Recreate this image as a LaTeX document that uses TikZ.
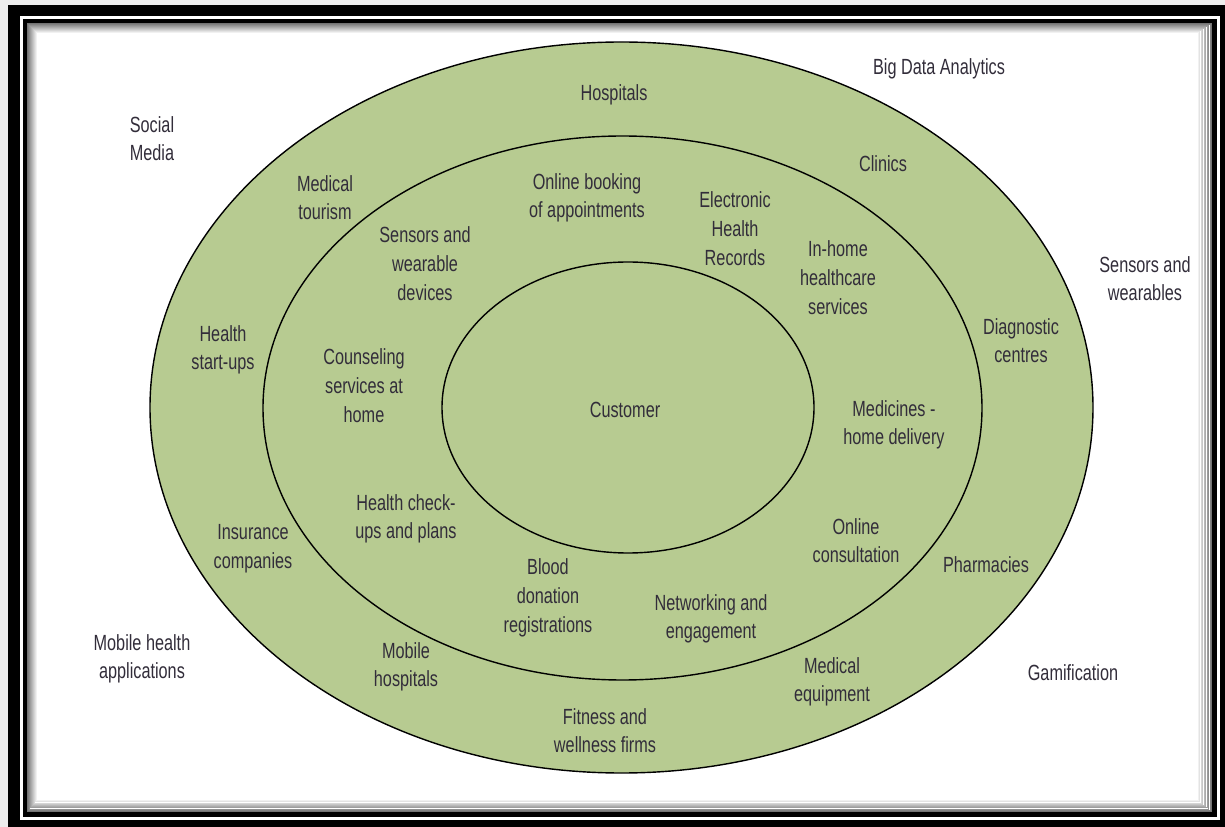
\documentclass[tikz,border=0pt]{standalone}
\usepackage{fontspec}
\setmainfont{Liberation Sans}[FakeStretch=0.74]
\usepackage{tikz}
\definecolor{ringgreen}{RGB}{183,203,145}
\definecolor{txtgray}{RGB}{50,45,58}

\tikzset{
  lbl/.style={align=center, text=txtgray, inner sep=0pt, yshift=-1pt, font=\fontsize{12.5}{16.3}\selectfont},
  ring/.style={draw=black, line width=0.8pt, fill=ringgreen}
}

\begin{document}
\begin{tikzpicture}[x=0.02cm,y=-0.02cm]
      \useasboundingbox (0,0) rectangle (1225,827);
      % frame
      \fill[black!7] (0,0) rectangle (1225,827);
      \fill[black] (8,5) rectangle (1225,827);
      \fill[white] (20,16) rectangle (1220,820);
      \fill[black] (23,19) rectangle (1217,817);
      \fill[white] (27,23) rectangle (1212,812);
      %ombra interna
      \foreach \i [evaluate=\i as \c using 55-5.5*\i] in {0,...,9}
        \draw[black!\c, line width=0.02cm] (27.5+\i,23.5+\i) rectangle (1211.5-1.5*\i,811.5-1.2*\i);

      % anelli
      \draw[ring] (621.5,407.5) ellipse [x radius=471.5, y radius=365.5];
      \draw[ring] (622.5,408) ellipse [x radius=359.5, y radius=272];
      \draw[ring] (628,407.5) ellipse [x radius=186, y radius=145.5];

      %esterno
      \node[lbl] (bigdata) at (939,67) {Big Data Analytics};
      \node[lbl] (social) at (152,137) {Social\\Media};
      \node[lbl] (senswear) at (1145,277) {Sensors and\\wearables};
      \node[lbl] (mhealth) at (142,657) {Mobile health\\applications};
      \node[lbl] (gamif) at (1073,671) {Gamification};
      %anello esterno
      \node[lbl] (hosp) at (614,93) {Hospitals};
      \node[lbl] (clinics) at (883,162) {Clinics};
      \node[lbl] (medtour) at (325,196) {Medical\\tourism};
      \node[lbl] (diag) at (1021,339) {Diagnostic\\centres};
      \node[lbl] (startups) at (223,348) {Health\\start-ups};
      \node[lbl] (insur) at (253,547) {Insurance\\companies};
      \node[lbl] (pharm) at (986,563) {Pharmacies};
      \node[lbl] (mobhosp) at (406,665) {Mobile\\hospitals};
      \node[lbl] (medequip) at (832,680) {Medical\\equipment};
      \node[lbl] (fitness) at (605,729) {Fitness and\\wellness firms};
      %anello medio
      \node[lbl] (booking) at (587,196) {Online booking\\of appointments};
      \node[lbl] (ehr) at (735,227) {Electronic\\Health\\Records};
      \node[lbl] (sensdev) at (425,262) {Sensors and\\wearable\\devices};
      \node[lbl] (inhome) at (838,276) {In-home\\healthcare\\services};
      \node[lbl] (counsel) at (364,384) {Counseling\\services at\\home};
      \node[lbl] (medicines) at (894,423) {Medicines -\\home delivery};
      \node[lbl] (checkups) at (406,517) {Health check-\\ups and plans};
      \node[lbl] (consult) at (856,539) {Online\\consultation};
      \node[lbl] (blood) at (548,596) {Blood\\donation\\registrations};
      \node[lbl] (network) at (711,617) {Networking and\\engagement};
      %centro
      \node[lbl] (customer) at (625,408) {Customer};
    \end{tikzpicture}
\end{document}
